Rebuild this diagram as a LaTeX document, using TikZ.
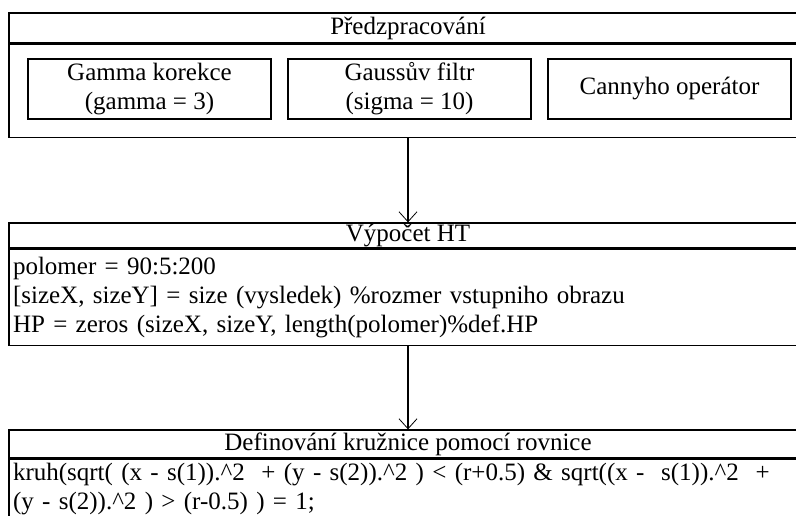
\documentclass[tikz,border=0pt]{standalone}
\usepackage{fontspec}
\setmainfont{Liberation Serif}
\usetikzlibrary{arrows.meta,positioning}

\begin{document}
\begin{tikzpicture}[
	x=1pt, y=-1pt,
	every node/.style = {font=\fontsize{25}{29}\selectfont, line width=1.3pt},
	hlava/.style = {draw, minimum width=798pt, minimum height=#1 pt, inner sep=0pt},
	telo/.style = {draw, minimum width=798pt, minimum height=#1 pt, anchor=north,
		text width=790pt, inner xsep=4pt, inner ysep=0pt, align=left},
	filtr/.style = {draw, minimum width=243pt, minimum height=60pt, inner sep=0pt, align=center},
	sipka/.style = {line width=1.1pt, -{Straight Barb[length=10pt,width=18pt,line width=0.8pt]}}]
	
	\useasboundingbox (0,0) rectangle (796,515);
	\clip (0,0) rectangle (796,515);
	
	% predzpracovani
	\node[hlava=30] (hA) at (408,28) {P\v{r}edzpracování};
	\node[telo=93] (tA) at (hA.south) {};
	\foreach \i/\t in {1/{Gamma korekce\\(gamma = 3)}, 2/{Gaussův filtr\\(sigma = 10)}, 3/{Cannyho operátor}}
	{
		\node[filtr] (f\i) at ({149.5+260*(\i-1)},89) {\t};
	}
	
	% vypocet HT
	\node[hlava=25] (hB) at (408,235.5) {Výpočet HT};
	\node[telo=96] (tB) at (hB.south) {polomer = 90:5:200\\
		{[}sizeX, sizeY] = size (vysledek) \%rozmer vstupniho obrazu\\
		HP = zeros (sizeX, sizeY, length(polomer)\%def.HP};
	
	% rovnice kruznice
	\node[hlava=28] (hC) at (408,444) {Definování kružnice pomocí rovnice};
	\node[telo=60] (tC) at (hC.south) {kruh(sqrt( (x - s(1)).\^{}2 \ + (y - s(2)).\^{}2 ) < (r+0.5) \& sqrt((x - \ s(1)).\^{}2 \ +\\
		(y - s(2)).\^{}2 ) > (r-0.5) ) = 1;};
	
	\draw[sipka] (tA) -- (hB);
	\draw[sipka] (tB) -- (hC);
\end{tikzpicture}
\end{document}
